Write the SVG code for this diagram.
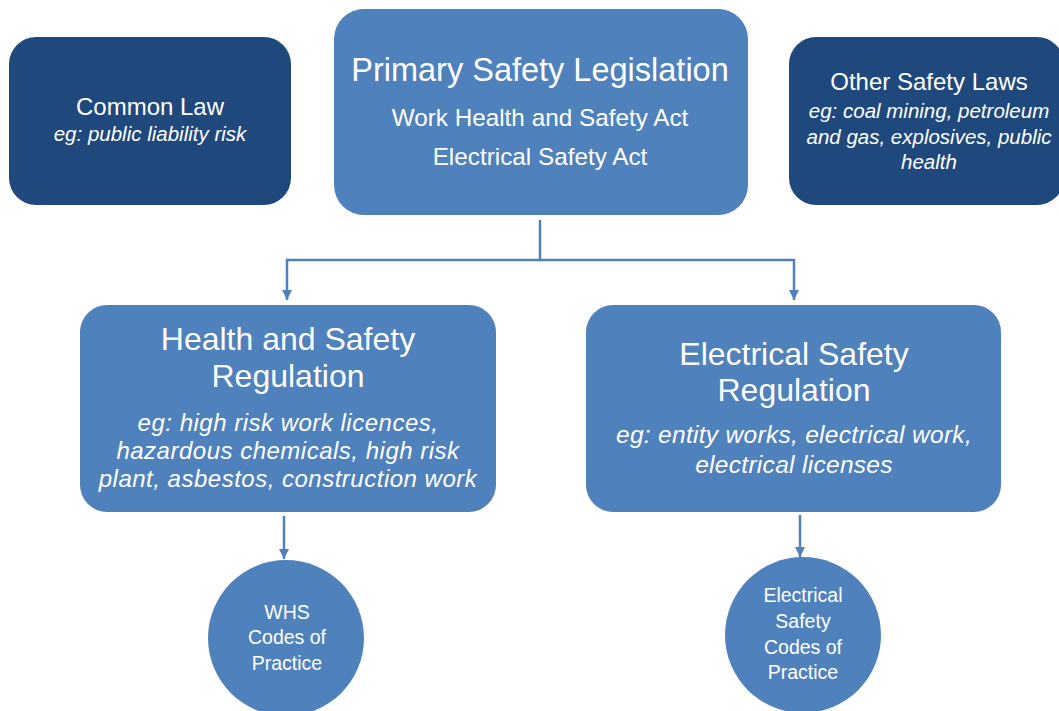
<svg xmlns="http://www.w3.org/2000/svg" width="1059" height="711" viewBox="0 0 1059 711">
<defs>
<marker id="arr" viewBox="0 0 10 10" refX="10" refY="5" markerWidth="4" markerHeight="4" orient="auto" markerUnits="strokeWidth">
<path d="M0,0 L10,5 L0,10 z" fill="#4F81BD"/>
</marker>
<style>
.light{fill:#4F81BD;}
.dark{fill:#1F497D;}
text{fill:#fff;font-family:"Liberation Sans",Arial,sans-serif;text-anchor:middle;}
.it{font-style:italic;}
.small{font-size:19.5px;}
.conn{fill:none;stroke:#4F81BD;stroke-width:2.5;}
</style>
</defs>
<rect width="1059" height="711" fill="#fff"/>
<g id="connectors">
<polyline class="conn" points="540,220 540,260 287,260 287,300" marker-end="url(#arr)"/>
<polyline class="conn" points="540,260 794,260 794,300" marker-end="url(#arr)"/>
<line class="conn" x1="284" y1="516" x2="284" y2="559" marker-end="url(#arr)"/>
<line class="conn" x1="800" y1="515" x2="800" y2="557" marker-end="url(#arr)"/>
</g>
<g id="common-law">
<rect class="dark" x="9" y="37" width="282" height="168" rx="27"/>
<text x="150" y="115" font-size="24">Common Law</text>
<text class="it" x="150" y="141" font-size="20.5">eg: public liability risk</text>
</g>
<g id="primary">
<rect class="light" x="334" y="9" width="414" height="206" rx="30"/>
<text x="540" y="81" font-size="32.5">Primary Safety Legislation</text>
<text x="540" y="126" font-size="24.3">Work Health and Safety Act</text>
<text x="540" y="165" font-size="24.3">Electrical Safety Act</text>
</g>
<g id="other-laws">
<rect class="dark" x="789" y="37" width="275" height="168" rx="27"/>
<text x="929" y="90" font-size="24">Other Safety Laws</text>
<text class="it" x="929" y="118" font-size="20.5">eg: coal mining, petroleum</text>
<text class="it" x="929" y="144" font-size="20.5">and gas, explosives, public</text>
<text class="it" x="929" y="169" font-size="20.5">health</text>
</g>
<g id="hs-regulation">
<rect class="light" x="80" y="305" width="416" height="207" rx="27"/>
<text x="288" y="350" font-size="32">Health and Safety</text>
<text x="288" y="387" font-size="32">Regulation</text>
<text class="it" x="288" y="431" font-size="24" letter-spacing="0.5">eg: high risk work licences,</text>
<text class="it" x="288" y="459" font-size="24" letter-spacing="0.5">hazardous chemicals, high risk</text>
<text class="it" x="288" y="487" font-size="24" letter-spacing="0.5">plant, asbestos, construction work</text>
</g>
<g id="es-regulation">
<rect class="light" x="586" y="305" width="415" height="207" rx="27"/>
<text x="794" y="365" font-size="32">Electrical Safety</text>
<text x="794" y="401" font-size="32">Regulation</text>
<text class="it" x="794" y="443" font-size="24.5" letter-spacing="0.3">eg: entity works, electrical work,</text>
<text class="it" x="794" y="473" font-size="24.5" letter-spacing="0.3">electrical licenses</text>
</g>
<g id="whs-codes">
<ellipse class="light" cx="286" cy="638" rx="78" ry="78"/>
<text class="small" x="287" y="619">WHS</text>
<text class="small" x="287" y="644">Codes of</text>
<text class="small" x="287" y="670">Practice</text>
</g>
<g id="es-codes">
<ellipse class="light" cx="803" cy="635" rx="78" ry="78"/>
<text class="small" x="803" y="602">Electrical</text>
<text class="small" x="803" y="628">Safety</text>
<text class="small" x="803" y="654">Codes of</text>
<text class="small" x="803" y="679">Practice</text>
</g>
</svg>
